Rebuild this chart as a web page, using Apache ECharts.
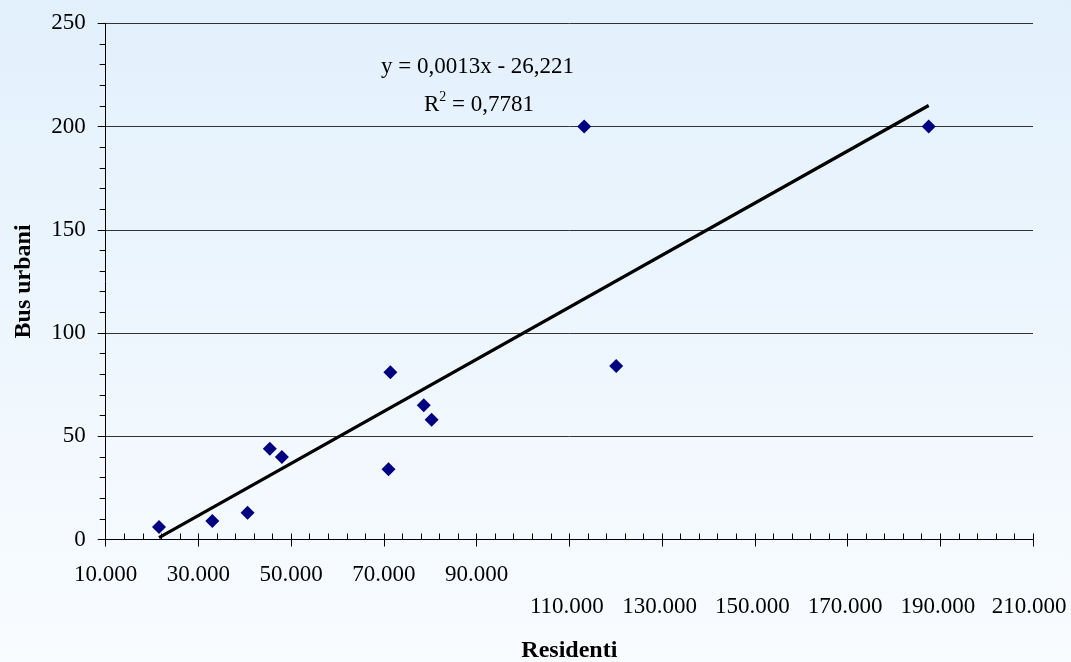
<!DOCTYPE html>
<html>
<head>
<meta charset="utf-8">
<script src="https://cdn.jsdelivr.net/npm/echarts@6/dist/echarts.min.js"></script>
<style>html,body{margin:0;padding:0;}#c{width:1071px;height:662px;}</style>
</head>
<body>
<div id="c"></div>
<script>
// Data
var residenti = [21500, 33000, 40600, 45400, 48000, 71000, 71400, 78600, 80300, 113200, 120100, 187500];
var busUrbani = [6, 9, 13, 44, 40, 34, 81, 65, 58, 200, 84, 200];
var xTicks = [10000, 30000, 50000, 70000, 90000, 110000, 130000, 150000, 170000, 190000, 210000];
var yTicks = [0, 50, 100, 150, 200, 250];
var equationText = 'y = 0,0013x - 26,221';
var r2Value = '0,7781';
var xTitle = 'Residenti';
var yTitle = 'Bus urbani';

// linear regression (Excel-style trendline) from the data
var n = residenti.length, mx = 0, my = 0;
for (var i = 0; i < n; i++) { mx += residenti[i]; my += busUrbani[i]; }
mx /= n; my /= n;
var sxy = 0, sxx = 0;
for (var i = 0; i < n; i++) { sxy += (residenti[i]-mx)*(busUrbani[i]-my); sxx += (residenti[i]-mx)*(residenti[i]-mx); }
var slope = sxy / sxx, icpt = my - slope * mx;
var xMinD = Math.min.apply(null, residenti), xMaxD = Math.max.apply(null, residenti);
var trend = [[xMinD, slope*xMinD+icpt], [xMaxD, slope*xMaxD+icpt]];

var points = residenti.map(function(x, i){ return [x, busUrbani[i]]; });

function fmt(v){ return String(v).replace(/\B(?=(\d{3})+(?!\d))/g, '.'); }

var FONT = '"Liberation Serif", "Times New Roman", serif';
var xMin = xTicks[0], xMax = xTicks[xTicks.length-1];
var xInt = xTicks[1]-xTicks[0];
var yMin = yTicks[0], yMax = yTicks[yTicks.length-1], yInt = yTicks[1]-yTicks[0];

var chart = echarts.init(document.getElementById('c'));
chart.setOption({
  animation: false,
  backgroundColor: new echarts.graphic.LinearGradient(0, 0, 0, 1, [
    {offset: 0, color: '#E2F0FC'},
    {offset: 1, color: '#F9FCFF'}
  ]),
  grid: {left: 105.7, right: 38, top: 23.3, bottom: 122.5, containLabel: false, outerBoundsMode: 'none'},
  xAxis: [{
    type: 'value', min: xMin, max: xMax, interval: xInt,
    name: xTitle, nameLocation: 'middle', nameGap: 99,
    nameTextStyle: {fontFamily: FONT, fontSize: 24, fontWeight: 'bold', color: '#000'},
    axisLine: {show: true, lineStyle: {color: '#000', width: 1}},
    axisTick: {show: true, inside: false, length: 7, lineStyle: {color: '#000'}},
    splitLine: {show: false},
    axisLabel: {
      margin: 24, fontFamily: FONT, fontSize: 23, color: '#000',
      showMinLabel: true, showMaxLabel: true, hideOverlap: false,
      formatter: function(v){
        var s = fmt(v);
        if (v === xMax) return '{e|' + s + '}';
        if (v > 100000) return '{b|' + s + '}';
        return '{a|' + s + '}';
      },
      rich: {
        a: {fontFamily: FONT, fontSize: 23, color: '#000'},
        b: {fontFamily: FONT, fontSize: 23, color: '#000', padding: [32, 5, 0, 0]},
        e: {fontFamily: FONT, fontSize: 23, color: '#000', padding: [32, 8, 0, 0]}
      }
    }
  }, {
    type: 'value', min: xMin, max: xMax, interval: xInt, position: 'bottom',
    axisLine: {show: false}, axisLabel: {show: false}, splitLine: {show: false},
    axisTick: {show: true, inside: true, length: 6, lineStyle: {color: '#000'}},
    minorTick: {show: true, splitNumber: 5, length: 6, lineStyle: {color: '#000'}}
  }],
  yAxis: [{
    type: 'value', min: yMin, max: yMax, interval: yInt,
    name: yTitle, nameLocation: 'middle', nameGap: 70, nameRotate: 90,
    nameTextStyle: {fontFamily: FONT, fontSize: 24, fontWeight: 'bold', color: '#000'},
    axisLine: {show: true, lineStyle: {color: '#000', width: 1}},
    axisTick: {show: true, inside: false, length: 8, lineStyle: {color: '#000'}},
    splitLine: {show: true, lineStyle: {color: '#333', width: 1}},
    axisLabel: {margin: 20, fontFamily: FONT, fontSize: 23, color: '#000'}
  }, {
    type: 'value', min: yMin, max: yMax, interval: yInt, position: 'left',
    axisLine: {show: false}, axisLabel: {show: false}, splitLine: {show: false},
    axisTick: {show: false},
    minorTick: {show: true, splitNumber: 5, length: 6, lineStyle: {color: '#000'}}
  }],
  series: [{
    type: 'line', data: trend, xAxisIndex: 0, yAxisIndex: 0,
    symbol: 'none', lineStyle: {color: '#000', width: 3.2}, z: 2, silent: true
  }, {
    type: 'scatter', data: points, xAxisIndex: 0, yAxisIndex: 0,
    symbol: 'diamond', symbolSize: 14,
    itemStyle: {color: '#000080', opacity: 1}, z: 3
  }],
  graphic: [{
    type: 'text', x: 477.5, y: 67,
    style: {text: equationText, fontFamily: FONT, fontSize: 23, fill: '#000', align: 'center', verticalAlign: 'middle'}
  }, {
    type: 'text', x: 479, y: 103,
    style: {
      text: '{n|R}{s|2}{n| = ' + r2Value + '}', align: 'center', verticalAlign: 'middle',
      rich: {
        n: {fontFamily: FONT, fontSize: 23, fill: '#000', color: '#000', verticalAlign: 'bottom', lineHeight: 26},
        s: {fontFamily: FONT, fontSize: 14, fill: '#000', color: '#000', verticalAlign: 'top', lineHeight: 26, padding: [0, 0, 10, 0]}
      }
    }
  }]
});
</script>
</body>
</html>
